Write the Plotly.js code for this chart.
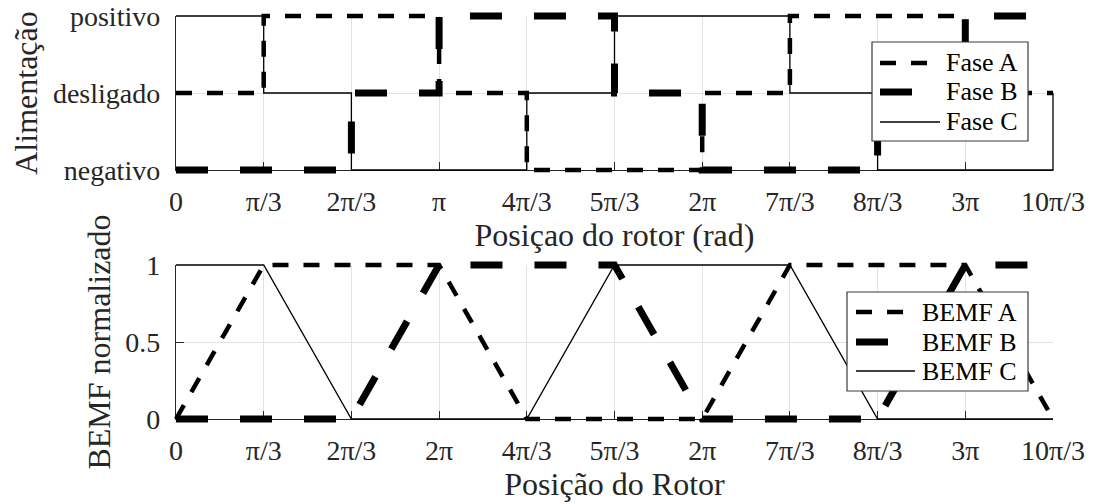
<!DOCTYPE html>
<html>
<head>
<meta charset="utf-8">
<script src="https://cdn.plot.ly/plotly-3.0.1.min.js"></script>
<style>
  html, body { margin: 0; padding: 0; background: #ffffff; }
  #chart { width: 1094px; height: 504px; }
</style>
</head>
<body>
<div id="chart"></div>
<script>
// Rotor position is expressed in commutation sectors of π/3 rad
const sectorTicks = [0, 1, 2, 3, 4, 5, 6, 7, 8, 9, 10];
const topTickText = ['0', 'π/3', '2π/3', 'π', '4π/3', '5π/3', '2π', '7π/3', '8π/3', '3π', '10π/3'];
const bottomTickText = ['0', 'π/3', '2π/3', '2π', '4π/3', '5π/3', '2π', '7π/3', '8π/3', '3π', '10π/3'];

const stateTickVals = [-1, 0, 1];
const stateTickText = ['negativo', 'desligado', 'positivo'];
const bemfTickVals = [0, 0.5, 1];
const bemfTickText = ['0', '0.5', '1'];

// Phase supply state at the start of each sector (last entry: state entered at 10π/3)
const faseA = [0, 1, 1, 0, -1, -1, 0, 1, 1, 0, 0];
const faseB = [-1, -1, 0, 1, 1, 0, -1, -1, 0, 1, 1];
const faseC = [1, 0, -1, -1, 0, 1, 1, 0, -1, -1, 0];
const faseNames = ['Fase A', 'Fase B', 'Fase C'];

// Normalised trapezoidal back-EMF corners (position in sectors, value)
const bemfA_pos = [0, 1, 3, 4, 6, 7, 9, 10];
const bemfA_val = [0, 1, 1, 0, 0, 1, 1, 0];
const bemfB_pos = [0, 2, 3, 5, 6, 8, 9, 10];
const bemfB_val = [0, 0, 1, 1, 0, 0, 1, 1];
const bemfC_pos = [0, 1, 2, 4, 5, 7, 8, 10];
const bemfC_val = [1, 1, 0, 0, 1, 1, 0, 0];
const bemfNames = ['BEMF A', 'BEMF B', 'BEMF C'];

const SECTOR = Math.PI / 3;
const toRad = arr => arr.map(k => k * SECTOR);
const xMax = 10 * SECTOR;

// ---- page geometry (pixels) ----
const W = 1094, H = 504;
const M = { l: 166, r: 31, t: 6, b: 75 };
const PW = W - M.l - M.r, PH = H - M.t - M.b;
const fx = px => (px - M.l) / PW;
const fy = py => (H - M.b - py) / PH;

const box = { left: 176, right: 1053 };
const topBox = { top: 16, bottom: 170 };
const botBox = { top: 265, bottom: 419 };
const PAD = 10;   // room around the data axes so strokes at the edges are not cut

const xPer = xMax / (box.right - box.left);
const topPer = 2 / (topBox.bottom - topBox.top);
const botPer = 1 / (botBox.bottom - botBox.top);

const FONT = 'Liberation Serif';
const INK = '#262626';

const styles = [
  { color: '#000', width: 4.5, dash: '16px,15px' },
  { color: '#000', width: 7, dash: '32px,32px' },
  { color: '#000', width: 1.3, dash: 'solid' }
];

function gridAxis(extra) {
  return Object.assign({
    showgrid: true, gridcolor: '#e2e2e2', gridwidth: 1,
    showline: true, linecolor: INK, linewidth: 1.2,
    ticks: 'inside', ticklen: 8, tickwidth: 1, tickcolor: INK,
    tickfont: { family: FONT, size: 28, color: INK },
    zeroline: false, fixedrange: true, tickmode: 'array'
  }, extra);
}
function dataAxis(extra) {
  return Object.assign({ visible: false, fixedrange: true, showgrid: false, zeroline: false }, extra);
}

const traces = [
  // empty traces so the two framed subplots are created
  { x: [], y: [], xaxis: 'x', yaxis: 'y', showlegend: false, hoverinfo: 'skip' },
  { x: [], y: [], xaxis: 'x2', yaxis: 'y2', showlegend: false, hoverinfo: 'skip' }
];

[faseA, faseB, faseC].forEach((s, i) => {
  traces.push({
    type: 'scatter', mode: 'lines', name: faseNames[i],
    x: toRad(sectorTicks), y: s, line: Object.assign({ shape: 'hv' }, styles[i]),
    xaxis: 'x3', yaxis: 'y3', showlegend: false
  });
});
[[bemfA_pos, bemfA_val], [bemfB_pos, bemfB_val], [bemfC_pos, bemfC_val]].forEach((d, i) => {
  traces.push({
    type: 'scatter', mode: 'lines', name: bemfNames[i],
    x: toRad(d[0]), y: d[1], line: Object.assign({}, styles[i]),
    xaxis: 'x4', yaxis: 'y4', showlegend: false
  });
});

// ---- legends drawn as framed boxes ----
const shapes = [];
const annotations = [];
function legendBox(b, names) {
  shapes.push({
    type: 'rect', xref: 'paper', yref: 'paper', layer: 'above',
    x0: fx(b.x0), x1: fx(b.x1), y0: fy(b.y1), y1: fy(b.y0),
    fillcolor: '#ffffff', line: { color: '#3a3a3a', width: 1.2 }
  });
  names.forEach((n, i) => {
    const py = b.rows[i];
    shapes.push({
      type: 'line', xref: 'paper', yref: 'paper', layer: 'above',
      x0: fx(b.sx0), x1: fx(b.sx1), y0: fy(py), y1: fy(py),
      line: { color: styles[i].color, width: styles[i].width, dash: styles[i].dash }
    });
    annotations.push({
      xref: 'paper', yref: 'paper', x: fx(b.tx), y: fy(py),
      xanchor: 'left', yanchor: 'middle', showarrow: false, text: n,
      font: { family: FONT, size: 26, color: '#000' }
    });
  });
}
legendBox({ x0: 872, x1: 1028, y0: 42, y1: 141, sx0: 880, sx1: 940, tx: 944, rows: [63, 92, 122] }, faseNames);
legendBox({ x0: 847, x1: 1028, y0: 292, y1: 391, sx0: 856, sx1: 915, tx: 920, rows: [312, 342, 371] }, bemfNames);

const layout = {
  width: W, height: H,
  margin: M,
  paper_bgcolor: '#ffffff', plot_bgcolor: 'rgba(0,0,0,0)',
  showlegend: false,
  font: { family: FONT, color: INK },
  xaxis: gridAxis({
    anchor: 'y', domain: [fx(box.left), fx(box.right)], range: [0, xMax],
    tickvals: toRad(sectorTicks), ticktext: topTickText, ticklabelstandoff: 6,
    title: { text: 'Posiçao do rotor (rad)', font: { family: FONT, size: 32, color: INK }, standoff: 3 }
  }),
  yaxis: gridAxis({
    anchor: 'x', domain: [fy(topBox.bottom), fy(topBox.top)], range: [-1, 1],
    tickvals: stateTickVals, ticktext: stateTickText, ticklabelstandoff: 9,
    title: { text: 'Alimentação', font: { family: FONT, size: 32, color: INK }, standoff: 5 }
  }),
  xaxis2: gridAxis({
    anchor: 'y2', domain: [fx(box.left), fx(box.right)], range: [0, xMax],
    tickvals: toRad(sectorTicks), ticktext: bottomTickText, ticklabelstandoff: 6,
    title: { text: 'Posição do Rotor', font: { family: FONT, size: 32, color: INK }, standoff: 3 }
  }),
  yaxis2: gridAxis({
    anchor: 'x2', domain: [fy(botBox.bottom), fy(botBox.top)], range: [0, 1],
    tickvals: bemfTickVals, ticktext: bemfTickText, ticklabelstandoff: 9,
    title: { text: 'BEMF normalizado', font: { family: FONT, size: 32, color: INK }, standoff: 5 }
  }),
  xaxis3: dataAxis({ anchor: 'y3', domain: [fx(box.left - PAD), fx(box.right + PAD)],
    range: [-PAD * xPer, xMax + PAD * xPer] }),
  yaxis3: dataAxis({ anchor: 'x3', domain: [fy(topBox.bottom + PAD), fy(topBox.top - PAD)],
    range: [-1 - PAD * topPer, 1 + PAD * topPer] }),
  xaxis4: dataAxis({ anchor: 'y4', domain: [fx(box.left - PAD), fx(box.right + PAD)],
    range: [-PAD * xPer, xMax + PAD * xPer] }),
  yaxis4: dataAxis({ anchor: 'x4', domain: [fy(botBox.bottom + PAD), fy(botBox.top - PAD)],
    range: [-PAD * botPer, 1 + PAD * botPer] }),
  shapes: shapes,
  annotations: annotations
};

Plotly.newPlot('chart', traces, layout, { staticPlot: true, displayModeBar: false });
</script>
</body>
</html>
